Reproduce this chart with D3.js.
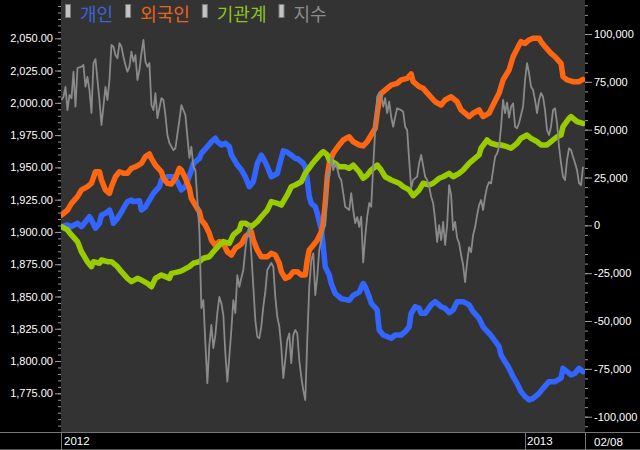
<!DOCTYPE html>
<html><head><meta charset="utf-8">
<script src="https://cdn.jsdelivr.net/npm/d3@7/dist/d3.min.js"></script>
<style>html,body{margin:0;padding:0;background:#000;}svg{display:block;}</style>
</head><body>
<svg id="c" width="640" height="450"></svg>
<script>
// ---- data (trading-day index, value) ----
const seriesNames = ["개인", "외국인", "기관계", "지수"];
const individual = [[0,-700],[3,200],[5,-700],[8,1100],[10,-700],[12,1900],[14,4500],[15,2800],[17,-1500],[19,1100],[20,5400],[22,6300],[24,8000],[25,5400],[26,1100],[28,3700],[30,7000],[31,8900],[33,12400],[35,13200],[36,12400],[39,12900],[40,8000],[42,9700],[44,13200],[46,16700],[49,20200],[50,23700],[53,25400],[56,25400],[58,22800],[60,18500],[62,20200],[63,22800],[65,28900],[66,32400],[69,35000],[70,37600],[73,41100],[75,43700],[77,45500],[78,43700],[80,42000],[82,42900],[84,41100],[85,36800],[87,33300],[88,31500],[90,29000],[92,25400],[94,20200],[96,22800],[98,32400],[100,36700],[101,35000],[103,30700],[105,25400],[108,27100],[110,35000],[111,38900],[113,38300],[115,36700],[117,35000],[118,35000],[120,33300],[121,32400],[122,30700],[123,23700],[124,15000],[125,11500],[127,9700],[128,6300],[130,-2000],[131,-11200],[132,-21600],[134,-25900],[135,-30400],[137,-35600],[140,-38300],[144,-39200],[146,-36600],[149,-34900],[151,-30400],[152,-32100],[154,-37300],[155,-40700],[158,-44200],[159,-54700],[161,-57300],[165,-59000],[167,-57300],[170,-57300],[172,-55600],[174,-53000],[175,-46000],[177,-42500],[179,-43400],[180,-46000],[182,-46000],[185,-41600],[187,-39900],[190,-42500],[192,-43400],[194,-45600],[196,-44200],[198,-39900],[201,-39900],[204,-41600],[206,-45100],[209,-48600],[211,-53000],[214,-56400],[216,-59000],[219,-63400],[220,-67800],[223,-73000],[224,-74700],[226,-79100],[228,-82600],[230,-86900],[232,-89500],[234,-91200],[236,-90400],[239,-87800],[241,-85200],[244,-81700],[247,-81700],[250,-79900],[251,-74700],[253,-76400],[255,-78200],[257,-77300],[259,-74700],[261,-76400]];
const foreign = [[0,5400],[3,8000],[5,11500],[8,15000],[10,18500],[13,20200],[15,22000],[17,28000],[19,28000],[20,23700],[22,18500],[24,16700],[25,20200],[27,25400],[29,28000],[31,27200],[33,27200],[35,29800],[37,30600],[40,32400],[42,35900],[44,37300],[45,35000],[47,31500],[50,28000],[51,24600],[53,22000],[55,21600],[57,24600],[59,29800],[60,28900],[62,24600],[64,19400],[65,14100],[67,10600],[69,7100],[70,2800],[72,200],[74,-4200],[75,-7700],[77,-10400],[79,-8500],[81,-9400],[83,-13800],[85,-15500],[87,-12000],[90,-9800],[92,-5900],[95,-3300],[96,-7700],[98,-12900],[100,-16400],[103,-16400],[105,-14600],[107,-15500],[109,-19800],[110,-24200],[112,-27700],[114,-26800],[116,-24200],[118,-24200],[120,-25900],[122,-25900],[123,-18100],[124,-12900],[126,-10400],[128,-7700],[130,-3500],[131,1100],[132,11500],[133,25400],[134,32400],[136,37700],[139,42000],[141,44600],[144,46300],[146,43700],[149,42000],[151,41500],[153,43700],[155,47200],[157,50700],[158,58600],[159,65500],[160,69000],[163,71600],[165,73300],[168,74200],[170,76000],[173,76800],[175,79100],[176,75100],[179,72500],[181,71600],[184,68100],[187,64600],[190,62900],[192,65500],[195,67200],[198,64600],[200,60300],[204,56800],[206,58600],[209,60300],[211,56800],[214,58600],[216,62900],[219,69000],[221,76000],[224,81200],[226,88100],[229,94300],[230,96000],[232,95100],[234,96900],[236,97800],[239,97800],[240,96000],[242,93400],[245,89900],[247,88100],[250,84700],[251,77700],[253,76000],[256,75100],[259,75100],[261,76300]];
const institution = [[0,-700],[3,-2400],[5,-5000],[8,-8500],[10,-13800],[13,-19000],[15,-21600],[16,-19000],[19,-19800],[20,-18100],[23,-19000],[25,-19000],[28,-21600],[30,-24200],[33,-27700],[35,-29400],[38,-27700],[40,-28600],[43,-30300],[45,-32100],[47,-27700],[50,-25900],[52,-26800],[54,-27700],[55,-25100],[59,-24200],[61,-23300],[64,-21600],[66,-19800],[69,-19000],[71,-17200],[74,-16400],[76,-13800],[79,-10300],[81,-8500],[84,-9400],[86,-5000],[89,-2400],[90,1100],[92,1100],[95,-700],[98,1900],[100,4500],[103,8000],[105,12400],[108,11500],[110,10600],[113,15900],[115,20200],[117,21100],[120,22800],[122,27200],[125,31500],[127,34100],[130,37700],[131,38500],[133,36800],[134,34100],[137,32400],[139,30600],[142,30600],[144,29800],[146,31500],[149,28000],[151,24600],[153,26300],[155,28900],[158,31500],[160,28900],[162,25400],[165,23700],[169,22000],[171,20200],[174,18500],[176,15500],[179,18500],[181,22000],[184,21100],[186,22000],[189,24600],[191,25400],[194,27200],[196,25400],[199,27200],[201,28900],[204,32400],[206,34200],[209,36800],[210,40300],[213,44600],[215,42900],[218,42000],[220,42000],[223,41100],[225,40300],[228,42900],[230,45500],[233,47200],[235,45500],[238,43700],[240,42000],[243,42000],[245,43700],[248,46300],[250,47200],[251,51600],[254,55900],[255,56800],[258,54200],[261,53300]];
const kospi = [[0,2002.2],[1,2004.7],[2,2012.3],[3,1994.4],[4,2006.1],[5,2003.5],[6,2024.1],[7,1997.0],[8,2027.0],[10,2028.0],[11,2029.3],[12,2012.5],[13,2020.2],[14,2009.9],[15,1992.1],[16,2030.8],[17,2033.9],[18,2017.7],[19,2002.2],[20,1982.8],[22,2012.3],[23,2002.2],[24,2017.7],[25,2044.8],[26,2043.5],[27,2037.0],[28,2034.5],[29,2046.3],[30,2043.5],[31,2035.7],[32,2029.3],[33,2024.1],[34,2028.0],[35,2039.6],[36,2031.9],[37,2037.0],[38,2017.7],[39,2025.4],[40,2038.6],[41,2048.7],[42,2031.9],[43,2028.0],[44,2030.8],[45,1998.3],[46,1994.4],[47,2007.6],[48,1988.2],[50,2003.7],[51,2002.2],[52,1990.6],[53,1975.1],[54,1968.9],[56,1963.4],[57,1964.8],[59,1986.7],[60,1998.3],[62,1990.6],[63,1973.8],[64,1957.3],[65,1966.0],[66,1950.5],[67,1948.0],[68,1924.7],[69,1901.5],[70,1841.0],[71,1847.2],[72,1813.9],[73,1782.9],[74,1812.4],[75,1827.9],[76,1810.1],[77,1820.1],[78,1837.2],[79,1849.6],[80,1844.9],[81,1835.6],[82,1806.2],[83,1784.0],[84,1803.3],[85,1824.0],[86,1847.2],[87,1837.2],[88,1866.6],[89,1857.5],[90,1864.3],[91,1870.5],[92,1886.0],[93,1899.1],[94,1904.0],[95,1883.4],[96,1857.5],[97,1831.7],[98,1818.8],[99,1817.6],[100,1826.6],[101,1842.1],[102,1853.7],[103,1870.5],[105,1875.9],[106,1873.0],[107,1849.8],[108,1834.3],[109,1826.6],[110,1811.1],[111,1786.8],[112,1800.8],[113,1816.3],[114,1821.4],[115,1798.4],[116,1820.1],[117,1824.0],[118,1821.4],[119,1800.8],[120,1787.8],[121,1777.5],[122,1769.8],[123,1816.3],[124,1857.5],[125,1878.2],[126,1883.4],[127,1851.1],[128,1865.3],[129,1886.0],[130,1893.7],[131,1901.5],[132,1905.3],[133,1945.6],[134,1942.8],[135,1958.3],[136,1947.9],[137,1953.1],[138,1949.3],[139,1942.8],[140,1940.2],[141,1930.1],[142,1919.5],[144,1917.0],[145,1930.1],[146,1917.0],[147,1906.9],[148,1911.5],[149,1904.0],[150,1911.8],[151,1876.3],[152,1896.3],[153,1911.8],[154,1922.4],[155,1919.5],[156,1950.5],[157,1978.9],[158,2004.7],[159,2007.6],[160,2006.1],[161,1997.0],[162,2003.7],[163,1992.1],[164,2000.9],[165,1989.2],[166,1981.5],[167,1989.2],[168,1995.8],[170,1994.4],[171,1993.1],[172,1981.5],[173,1978.9],[174,1955.6],[175,1934.0],[176,1940.2],[178,1942.8],[179,1953.4],[180,1959.6],[182,1942.8],[183,1940.2],[184,1935.0],[185,1927.3],[186,1922.4],[187,1909.2],[188,1892.2],[189,1905.3],[190,1893.7],[191,1907.7],[192,1889.9],[193,1905.3],[194,1936.3],[195,1928.6],[196,1901.5],[197,1907.7],[198,1895.3],[199,1891.4],[200,1882.1],[201,1874.4],[202,1861.2],[203,1876.7],[204,1888.3],[205,1884.4],[206,1897.6],[207,1903.8],[208,1913.1],[209,1920.8],[210,1924.7],[211,1917.0],[212,1927.3],[213,1935.0],[214,1938.6],[215,1937.6],[216,1947.9],[217,1958.2],[218,1960.8],[219,1966.0],[220,1981.5],[221,2002.2],[222,1992.1],[223,2000.2],[224,1988.6],[225,1997.0],[226,1999.6],[227,1981.5],[228,1980.3],[229,1984.4],[231,1997.0],[232,2017.7],[233,2030.8],[234,2022.9],[235,2012.5],[236,2009.9],[237,2002.2],[238,1992.1],[239,2002.2],[240,2007.6],[241,2004.7],[242,1994.4],[243,1978.9],[244,1975.1],[245,1981.5],[246,1994.4],[247,1995.8],[248,1984.4],[249,1966.0],[250,1953.4],[251,1942.8],[252,1940.2],[253,1955.7],[254,1964.8],[255,1963.4],[256,1958.3],[257,1953.4],[258,1948.0],[259,1937.9],[260,1936.3],[261,1950.5]];
const leftTicks = [1775, 1800, 1825, 1850, 1875, 1900, 1925, 1950, 1975, 2000, 2025, 2050];
const rightTicks = [-100000, -75000, -50000, -25000, 0, 25000, 50000, 75000, 100000];
const yearMarks = [["2012", 0], ["2013", 232]];
const lastDay = 261;
const lastDateLabel = "02/08";

// ---- layout ----
const W = 640, H = 450;
const P = {left: 61, right: 585, top: 0, bottom: 432};
const svg = d3.select("#c");
svg.append("rect").attr("width", W).attr("height", H).attr("fill", "#000");
svg.append("rect").attr("x", P.left).attr("y", P.top).attr("width", P.right - P.left).attr("height", P.bottom - P.top).attr("fill", "#333333");

const x = d3.scaleLinear().domain([0, lastDay]).range([P.left + 0.5, 583]);
const yL = d3.scaleLinear().domain([1775, 2050]).range([393.3, 38.3]);
const yR = d3.scaleLinear().domain([-100000, 100000]).range([416.7, 34]);

svg.append("clipPath").attr("id", "clip").append("rect")
  .attr("x", P.left).attr("y", P.top).attr("width", P.right - P.left).attr("height", P.bottom - P.top);

const loc = d3.formatLocale({decimal: ".", thousands: ",", grouping: [3], currency: ["", ""], minus: "-"});

// ---- axes ----
const fontAxis = "'Liberation Sans', Arial, sans-serif";
function styleAxis(g) {
  g.select(".domain").remove();
  g.selectAll("line").attr("stroke", "#9a9a9a");
  g.selectAll("text").attr("fill", "#fff").style("font-family", fontAxis).style("font-size", "11px");
}
const lMinor = d3.range(1750, 2080, 5).filter(v => yL(v) >= 0 && yL(v) <= P.bottom);
const rMinor = d3.range(-115000, 120000, 5000).filter(v => yR(v) >= 0 && yR(v) <= P.bottom);
svg.append("g").attr("transform", `translate(${P.left},0)`)
  .call(d3.axisLeft(yL).tickValues(lMinor).tickSize(3).tickFormat("")).call(styleAxis);
svg.append("g").attr("transform", `translate(${P.right},0)`)
  .call(d3.axisRight(yR).tickValues(rMinor).tickSize(3).tickFormat("")).call(styleAxis);
svg.append("g").attr("transform", `translate(${P.left},0)`)
  .call(d3.axisLeft(yL).tickValues(leftTicks).tickSize(6).tickPadding(2).tickFormat(loc.format(",.2f"))).call(styleAxis);
svg.append("g").attr("transform", `translate(${P.right},0)`)
  .call(d3.axisRight(yR).tickValues(rightTicks).tickSize(7).tickPadding(2).tickFormat(loc.format(","))).call(styleAxis);

// ---- lines ----
const lineR = d3.line().x(d => x(d[0])).y(d => yR(d[1]));
const lineL = d3.line().x(d => x(d[0])).y(d => yL(d[1]));
const plot = svg.append("g").attr("clip-path", "url(#clip)");
const thick = [[individual, "#3366ff"], [foreign, "#ff6611"], [institution, "#99cc00"]];
thick.forEach(([data, col]) => {
  plot.append("path").datum(data).attr("d", lineR).attr("fill", "none")
    .attr("stroke", col).attr("stroke-width", 5.5).attr("stroke-linejoin", "round").attr("stroke-linecap", "round");
});
plot.append("path").datum(kospi).attr("d", lineL).attr("fill", "none")
  .attr("stroke", "#8a8a8a").attr("stroke-width", 1.8).attr("stroke-linejoin", "round");

// ---- bottom band ----
const band = svg.append("g");
band.append("line").attr("x1", 0).attr("x2", W).attr("y1", P.bottom + 0.5).attr("y2", P.bottom + 0.5).attr("stroke", "#777");
band.append("line").attr("x1", 0).attr("x2", W).attr("y1", H - 0.5).attr("y2", H - 0.5).attr("stroke", "#555");
const seps = [x(0) - 0.5, x(yearMarks[1][1]), P.right];
seps.forEach(sx => band.append("line").attr("x1", Math.round(sx) + 0.5).attr("x2", Math.round(sx) + 0.5)
  .attr("y1", P.bottom).attr("y2", H).attr("stroke", "#777"));
yearMarks.forEach(([lab, d]) => {
  band.append("text").attr("x", Math.round(x(d)) + 2).attr("y", 445).text(lab)
    .attr("fill", "#fff").style("font-family", fontAxis).style("font-size", "11.5px");
});
band.append("text").attr("x", 594).attr("y", 446).text(lastDateLabel)
  .attr("fill", "#fff").style("font-family", fontAxis).style("font-size", "11.5px");

// ---- legend ----
const legCols = ["#3d63d8", "#e8651c", "#8fc21f", "#8c8c8c"];
let cx = 65;
seriesNames.forEach((name, i) => {
  svg.append("rect").attr("x", cx + 0.5).attr("y", 4.5).attr("width", 5).attr("height", 13)
    .attr("fill", "#c4c4c4").attr("stroke", "#7a7a7a");
  const t = svg.append("text").attr("x", cx + 15).attr("y", 21).text(name)
    .attr("fill", legCols[i]).style("font-family", "'Noto Sans CJK KR', sans-serif").style("font-size", "18px");
  cx = cx + 15 + t.node().getComputedTextLength() + 12;
});
</script>
</body></html>
